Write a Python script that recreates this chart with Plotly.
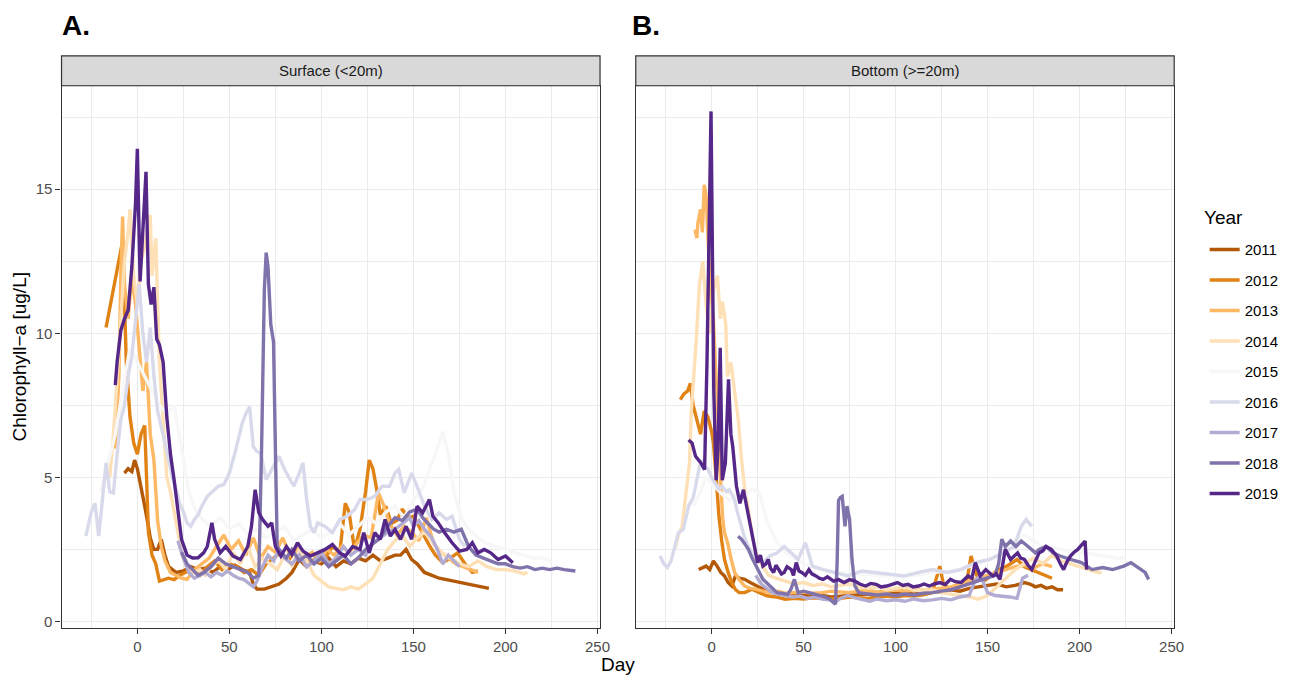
import plotly.graph_objects as go

# ---------------- data ----------------
years = [2011, 2012, 2013, 2014, 2015, 2016, 2017, 2018, 2019]
year_colors = ["#b35806", "#e08214", "#fdb863", "#fee0b6", "#f7f7f7",
               "#d8daeb", "#b2abd2", "#8073ac", "#542788"]
x_ticks = [0, 50, 100, 150, 200, 250]
y_ticks = [0, 5, 10, 15]
panel_titles = ["Surface (<20m)", "Bottom (>=20m)"]
panel_letters = ["A.", "B."]

# ---- Surface (<20m) ----
surf_2011_day = [-7, -5, -3, -1.5, 0, 2, 4, 6, 7, 9, 11, 13, 15, 17, 19, 21, 25, 29, 33, 37, 41, 45, 49, 53, 57,
                 61, 63, 65, 69, 73, 77, 81, 84, 88, 92, 96, 100, 104, 108, 112, 116, 120, 124, 128, 132,
                 136, 140, 143, 146, 149, 152, 156, 160, 164, 168, 172, 176, 180, 184, 188, 191]
surf_2011_chl = [5.15, 5.3, 5.2, 5.6, 5.3, 4.7, 4.0, 3.3, 2.9, 2.5, 2.5, 2.85, 2.3, 1.9, 1.8, 1.7, 1.75, 1.9, 1.8,
                 1.85, 1.7, 1.9, 1.8, 1.95, 1.8, 1.7, 1.3, 1.12, 1.12, 1.2, 1.3, 1.5, 1.7, 2.15, 1.9, 2.1, 2.0,
                 2.2, 1.9, 2.1, 2.0, 2.2, 2.1, 2.3, 2.1, 2.2, 2.3, 2.3, 2.5, 2.15, 2.0, 1.7, 1.6, 1.5, 1.45,
                 1.4, 1.35, 1.3, 1.25, 1.2, 1.15]

surf_2012_day = [-17, -15, -13, -11, -9, -8, -6, -4, -2, 0, 2, 4, 5, 6, 8, 10, 12, 14, 17, 20, 23, 26, 30, 34, 38,
                 42, 46, 50, 54, 58, 62, 66, 70, 74, 78, 82, 86, 90, 94, 98, 102, 106, 110, 113, 115, 118,
                 121, 124, 126, 128, 130, 132, 135, 138, 141, 144, 147, 150, 153, 156, 159, 162, 166, 170,
                 174, 178, 182, 185]
surf_2012_chl = [10.2, 10.9, 11.6, 12.2, 13.0, 13.2, 9.0, 7.1, 6.2, 5.8, 6.5, 6.8, 5.0, 3.1, 2.3, 2.0, 1.4, 1.45,
                 1.5, 1.45, 1.6, 1.7, 1.8, 1.6, 1.9, 2.1, 1.8, 2.0, 1.9, 1.7, 1.8, 1.6, 2.0, 2.2, 2.4, 2.1,
                 2.5, 2.2, 2.0, 2.3, 2.2, 2.6, 2.4, 4.1, 3.8, 2.5, 3.2, 4.5, 5.6, 5.3, 4.6, 3.7, 4.0, 3.4,
                 3.5, 3.9, 3.6, 3.65, 3.3, 2.9, 2.6, 2.3, 2.04, 2.2, 2.38, 2.0, 1.7, 1.75]

surf_2013_day = [-12, -10, -9, -8, -7, -5, -3, -1, 1, 3, 5, 7, 9, 11, 13, 15, 18, 21, 24, 27, 31, 35, 39, 43, 47,
                 51, 55, 59, 63, 67, 71, 75, 79, 83, 87, 91, 95, 99, 103, 107, 111, 115, 119, 123, 127,
                 131, 134, 137, 141, 145, 149, 153, 157, 161, 165, 169, 173, 177, 181, 185]
surf_2013_chl = [6.0, 8.5, 12.0, 14.05, 11.7, 10.5, 12.0, 11.0, 9.5, 8.0, 9.0, 6.5, 5.6, 3.5, 2.6, 2.1, 1.7, 1.6,
                 1.5, 1.46, 1.8, 2.0, 2.2, 2.6, 3.0, 2.5, 2.8, 2.3, 2.9, 2.2, 2.6, 2.4, 2.9, 2.3, 2.5, 2.2,
                 2.4, 2.1, 2.5, 2.3, 2.6, 2.4, 2.7, 3.0, 2.9, 4.46, 4.0, 3.4, 3.0, 3.3, 3.1, 2.8, 3.6, 2.7,
                 2.4, 2.2, 2.0, 1.9, 1.8, 1.7]

surf_2014_day = [-15, -13, -11, -9, -7, -5, -4, -2, 0, 2, 4, 6, 7, 8, 10, 12, 14, 16, 18, 20, 22, 24, 26, 28, 31,
                 34, 37, 40, 44, 48, 52, 56, 60, 64, 68, 72, 76, 80, 84, 88, 92, 96, 100, 104, 108, 112,
                 116, 120, 124, 128, 132, 136, 140, 144, 148, 152, 156, 160, 165, 170, 175, 180, 185, 190,
                 195, 200, 205, 210, 212]
surf_2014_chl = [5.0, 6.5, 8.4, 10.5, 12.5, 13.5, 14.3, 12.0, 11.0, 12.5, 13.0, 13.8, 14.1, 12.0, 13.3, 9.0, 7.0,
                 5.0, 4.5, 3.8, 3.0, 2.4, 2.0, 1.8, 1.7, 1.8, 1.6, 1.9, 2.1, 1.8, 2.4, 2.0, 2.6, 1.9, 2.2,
                 2.0, 1.8, 2.3, 1.9, 2.5, 2.1, 1.6, 1.4, 1.2, 1.15, 1.1, 1.2, 1.12, 1.3, 1.5, 2.0, 2.5, 2.8,
                 3.0, 2.6, 2.9, 3.1, 2.8, 2.4, 2.2, 2.0, 1.9, 2.1, 1.9, 1.8, 1.8, 1.75, 1.65, 1.7]

surf_2015_day = [-20, -16, -12, -8, -4, 0, 4, 8, 12, 16, 20, 24, 28, 32, 36, 40, 45, 50, 55, 60, 65, 70, 75, 80,
                 85, 90, 95, 100, 105, 110, 115, 120, 125, 130, 135, 140, 145, 150, 155, 160, 163, 166,
                 169, 172, 176, 180, 185, 190, 195, 200, 205, 210, 215, 220, 225]
surf_2015_chl = [4.5, 5.5, 6.5, 8.0, 9.5, 9.0, 8.5, 8.0, 7.5, 7.2, 7.5, 6.0, 4.5, 3.8, 3.5, 3.3, 3.6, 3.2, 3.4,
                 3.0, 3.2, 2.9, 3.1, 3.3, 2.8, 3.0, 3.2, 2.9, 3.1, 3.4, 3.0, 3.3, 3.6, 3.4, 3.8, 4.0, 3.6,
                 4.2, 4.6, 5.5, 6.0, 6.6, 5.8, 4.5, 3.6, 3.2, 2.9, 2.7, 2.6, 2.5, 2.4, 2.3, 2.2, 2.2, 2.1]

surf_2016_day = [-28, -25, -23, -21, -19, -17, -15, -13, -11, -9, -7, -5, -3, -1, 1, 3, 5, 7, 9, 11, 13, 15, 17,
                 19, 21, 23, 25, 27, 29, 31, 33, 35, 38, 41, 44, 47, 50, 53, 55, 57, 59, 61, 63, 65, 67,
                 70, 73, 77, 80, 83, 85, 88, 90, 92, 94, 96, 98, 102, 106, 110, 114, 118, 121, 125, 129,
                 133, 137, 140, 142, 145, 149, 152, 156, 160, 164, 168, 171, 175, 178]
surf_2016_chl = [2.96, 3.8, 4.1, 2.96, 4.2, 5.5, 4.5, 4.46, 5.8, 7.0, 7.5, 8.5, 9.2, 10.5, 11.7, 10.0, 9.0, 10.2,
                 8.5, 7.3, 6.8, 6.2, 5.6, 5.0, 4.6, 4.1, 3.8, 3.42, 3.3, 3.54, 3.7, 4.0, 4.34, 4.5, 4.69,
                 4.75, 5.15, 5.84, 6.4, 6.88, 7.22, 7.45, 6.07, 5.9, 5.84, 4.92, 5.27, 5.73, 5.27, 4.9,
                 4.69, 5.15, 5.5, 4.23, 3.3, 3.08, 3.42, 3.3, 3.08, 3.54, 3.65, 3.88, 4.23, 4.23, 4.34,
                 4.69, 4.69, 5.15, 5.27, 4.46, 5.15, 4.69, 4.0, 3.54, 3.77, 3.54, 3.65, 2.85, 2.6]

surf_2017_day = [22, 25, 28, 31, 34, 37, 40, 43, 46, 49, 52, 55, 58, 61, 63, 65, 68, 71, 74, 77, 80, 84, 88, 92,
                 96, 100, 104, 108, 112, 116, 120, 124, 128, 132, 136, 140, 144, 148, 150, 153, 156, 160,
                 163, 166, 169, 172, 175]
surf_2017_chl = [2.8, 2.2, 1.7, 1.5, 1.6, 1.7, 1.55, 1.7, 1.6, 1.75, 1.6, 1.5, 1.45, 1.3, 1.2, 1.4, 1.9, 2.3,
                 2.1, 2.5, 2.2, 2.0, 2.3, 1.9, 2.1, 2.4, 2.0, 2.2, 2.6, 2.3, 2.5, 2.3, 2.7, 2.9, 3.1, 3.2,
                 3.4, 3.6, 3.3, 3.5, 3.2, 2.9, 2.5, 2.0, 2.3, 2.1, 1.9]

surf_2018_day = [24, 27, 30, 33, 36, 40, 44, 48, 52, 56, 60, 63, 66, 67.5, 69, 70, 71, 72.5, 74, 75, 76, 78, 81,
                 84, 88, 92, 96, 100, 104, 108, 112, 116, 120, 124, 128, 132, 136, 140, 144, 148, 152, 155,
                 158, 161, 164, 168, 172, 176, 180, 184, 188, 192, 196, 200, 204, 208, 212, 216, 220, 224,
                 228, 232, 236, 238]
surf_2018_chl = [2.4, 2.0, 1.8, 1.6, 1.7, 1.9, 2.2, 2.0, 1.9, 1.8, 1.7, 1.5, 1.6, 6.0, 11.5, 12.8, 12.3, 10.3,
                 9.7, 6.0, 2.6, 2.4, 2.2, 2.5, 2.1, 2.3, 2.0, 2.2, 1.9, 2.1, 2.3, 2.0, 2.2, 2.5, 2.7, 2.9,
                 3.3, 3.6, 3.5, 3.8, 3.9, 3.6, 3.4, 3.2, 3.1, 3.2, 3.1, 3.2, 2.6, 2.3, 2.2, 2.1, 2.0, 2.0,
                 1.9, 1.85, 1.9, 1.8, 1.85, 1.8, 1.85, 1.8, 1.75, 1.75]

surf_2019_day = [-12, -11, -9, -7, -5, -3, -1, 0, 1.5, 3, 4.7, 6, 7.5, 9, 10.5, 12, 14, 16, 18, 20, 22, 24, 27,
                 30, 33, 36, 38, 40.5, 42, 45, 48, 52, 56, 60, 62, 64, 66, 68, 71, 73, 75, 78, 81, 84, 87,
                 90, 94, 98, 102, 106, 110, 113, 117, 121, 123, 126, 129, 132, 134.6, 137.5, 140, 143,
                 146, 149, 152, 155, 158.7, 160.6, 163.5, 167, 171, 175, 179, 182, 185, 188.5, 192, 196,
                 200, 204]
surf_2019_chl = [8.2, 9.0, 10.1, 10.5, 10.8, 12.3, 14.5, 16.4, 11.8, 13.5, 15.6, 11.7, 11.0, 11.6, 9.8, 9.6,
                 9.0, 7.1, 5.8, 4.9, 3.8, 2.85, 2.3, 2.2, 2.21, 2.38, 2.6, 3.42, 2.85, 2.38, 2.6, 2.27,
                 2.15, 2.6, 3.3, 4.57, 3.77, 3.54, 3.3, 3.42, 2.6, 2.27, 2.6, 2.33, 2.73, 2.44, 2.27, 2.38,
                 2.5, 2.67, 2.38, 2.27, 2.6, 2.5, 3.08, 2.38, 3.08, 2.85, 3.54, 2.96, 3.19, 2.85, 3.3,
                 2.85, 4.0, 3.77, 4.23, 3.65, 3.42, 3.08, 2.73, 2.44, 2.5, 2.73, 2.38, 2.5, 2.38, 2.15,
                 2.27, 2.04]

# ---- Bottom (>=20m) ----
bot_2011_day = [-7, -5, -3, -1, 1, 3, 5, 7, 9, 11, 13, 15, 18, 21, 24, 28, 32, 36, 40, 45, 50, 55, 60, 65, 70,
                75, 80, 85, 90, 95, 100, 105, 110, 115, 120, 125, 130, 135, 140, 145, 150, 155, 160, 165,
                170, 173, 176, 179, 182, 185, 188, 191]
bot_2011_chl = [1.8, 1.85, 1.92, 1.8, 2.1, 1.92, 1.7, 1.58, 1.35, 1.23, 1.58, 1.5, 1.46, 1.35, 1.25, 1.12, 1.05,
                1.0, 0.95, 0.9, 0.92, 0.88, 0.9, 0.85, 0.88, 0.9, 0.92, 0.95, 0.9, 0.95, 0.98, 1.0, 0.95,
                1.0, 1.05, 1.0, 1.1, 1.05, 1.15, 1.2, 1.25, 1.3, 1.2, 1.25, 1.35, 1.3, 1.2, 1.25, 1.15,
                1.2, 1.1, 1.1]

bot_2012_day = [-17, -15, -13, -11.5, -10, -8, -6, -4, -2, 0, 1, 2.5, 4, 5.5, 7, 9, 11, 13, 15, 18, 22, 26, 30,
                35, 40, 45, 50, 55, 60, 65, 70, 75, 80, 85, 90, 95, 100, 105, 110, 115, 120, 124, 126,
                130, 135, 139, 141, 144, 148, 152, 156, 160, 163, 166, 170, 174, 178, 182, 185]
bot_2012_chl = [7.7, 7.9, 8.0, 8.26, 7.5, 7.0, 6.5, 7.3, 7.1, 6.6, 6.2, 5.0, 3.65, 2.8, 2.15, 1.7, 1.35, 1.1,
                1.0, 1.0, 1.12, 1.0, 0.89, 0.85, 0.77, 0.8, 0.78, 0.82, 0.8, 0.78, 0.8, 0.85, 0.82, 0.8,
                0.85, 0.88, 0.85, 0.9, 0.88, 0.92, 1.0, 1.92, 1.3, 1.1, 1.2, 1.5, 2.27, 1.6, 1.4, 1.6,
                1.8, 1.9, 2.04, 2.15, 1.9, 1.8, 1.7, 1.6, 1.5]

bot_2013_day = [-9, -8, -7.5, -6, -5, -4, -3, -2, -1, 0, 1, 2, 3, 4, 5, 6, 7, 8.7, 10.5, 12.5, 15, 18, 21, 24,
                28, 32, 36, 40, 45, 50, 55, 60, 65, 70, 75, 80, 85, 90, 95, 100, 105, 110, 115, 120, 125,
                130, 135, 140, 145, 150, 155, 160, 165, 170, 175, 180, 185]
bot_2013_chl = [13.6, 13.3, 13.8, 14.3, 13.5, 15.15, 14.8, 13.0, 12.0, 11.0, 10.5, 9.0, 7.9, 6.0, 4.46, 3.6,
                3.1, 2.73, 2.2, 1.7, 1.45, 1.23, 1.15, 1.12, 1.05, 1.0, 1.05, 0.98, 1.0, 1.02, 0.98, 1.0,
                1.05, 1.02, 1.0, 1.05, 1.08, 1.02, 1.05, 1.1, 1.05, 1.1, 1.08, 1.12, 1.15, 1.2, 1.3, 1.4,
                1.5, 1.6, 1.7, 1.8, 1.9, 1.95, 1.85, 2.0, 1.9]

bot_2014_day = [-20, -18, -16, -14, -12, -11, -10, -8.4, -6.6, -4.8, -3, -1, 1, 3.2, 4.7, 5.9, 7.7, 8.6, 10.5,
                12.5, 14.5, 16.3, 18, 20, 22, 24, 26, 28, 31, 35, 40, 45, 50, 55, 60, 65, 70, 75, 80, 85,
                90, 95, 100, 105, 110, 115, 120, 125, 130, 135, 140, 145, 150, 155, 160, 165, 170, 175,
                180, 185, 190, 195, 200, 205, 210, 212]
bot_2014_chl = [2.5, 3.0, 3.3, 4.5, 5.5, 7.3, 8.2, 9.7, 11.7, 12.5, 11.0, 10.0, 11.5, 12.0, 10.5, 11.1, 10.3,
                8.5, 9.0, 8.0, 7.0, 5.6, 4.6, 3.9, 3.0, 2.4, 2.1, 1.9, 1.6, 1.5, 1.4, 1.3, 1.35, 1.25, 1.3,
                1.2, 1.25, 1.3, 1.2, 1.15, 1.2, 1.1, 1.15, 1.2, 1.1, 1.05, 1.1, 1.0, 0.95, 0.9, 0.85,
                0.77, 0.9, 1.2, 1.5, 1.8, 2.0, 2.2, 2.0, 2.3, 2.1, 2.0, 1.9, 1.8, 1.7, 1.7]

bot_2015_day = [-10, -6, -3, 0, 3, 6, 10, 14, 18, 22, 26, 30, 35, 40, 45, 50, 55, 60, 70, 80, 90, 100, 110, 120,
                130, 140, 150, 160, 165, 170, 175, 180, 190, 200, 210, 220, 225]
bot_2015_chl = [4.0, 4.5, 5.0, 4.8, 4.6, 4.4, 4.2, 4.5, 4.3, 4.6, 4.46, 3.5, 2.8, 2.4, 2.2, 2.0, 1.9, 1.8, 1.7,
                1.65, 1.6, 1.55, 1.6, 1.7, 1.75, 1.9, 2.1, 2.5, 2.8, 3.0, 2.8, 2.6, 2.5, 2.4, 2.3, 2.2, 2.2]

bot_2016_day = [-28, -26, -24, -22, -20, -18, -15.4, -12.5, -10, -8.7, -5.8, -4, -1.9, 0, 1.9, 4, 5.8, 8, 9.6,
                12.5, 14, 16.3, 18, 20, 22, 24, 27.9, 31.7, 35.6, 39.4, 43.3, 47, 51, 54.8, 60.6, 66.3, 74,
                81.7, 89.4, 97, 104.8, 112.5, 120, 127.9, 135.6, 143.3, 151, 158.7, 164.4, 168.3, 171, 174]
bot_2016_chl = [2.27, 2.0, 1.87, 2.1, 2.6, 3.08, 3.19, 4.0, 4.3, 4.69, 5.6, 5.4, 5.27, 5.0, 4.8, 4.6, 4.69,
                4.5, 4.57, 4.23, 3.8, 3.3, 2.9, 2.6, 2.4, 2.15, 2.04, 2.27, 2.38, 2.6, 2.38, 2.15, 2.73,
                1.92, 1.8, 1.7, 1.58, 1.75, 1.7, 1.64, 1.58, 1.7, 1.8, 1.7, 1.8, 2.04, 2.15, 2.38, 2.6,
                3.3, 3.54, 3.3]

bot_2017_day = [24, 27, 30, 33, 36, 40, 44, 48, 52, 56, 60, 64, 67, 70, 74, 78, 82, 86, 90, 95, 100, 105, 110,
                115, 120, 125, 130, 135, 140, 143, 146, 150, 154, 158, 162, 166, 169, 172]
bot_2017_chl = [1.6, 1.3, 1.15, 1.0, 0.95, 0.9, 0.85, 0.88, 0.8, 0.85, 0.78, 0.75, 0.65, 0.8, 0.9, 0.82, 0.75,
                0.7, 0.78, 0.72, 0.75, 0.7, 0.78, 0.72, 0.75, 0.8, 0.75, 0.85, 0.9, 1.4, 1.6, 1.0, 0.9,
                0.88, 0.85, 0.8, 1.5, 1.6]

bot_2018_day = [14.4, 16.3, 18, 20, 22, 24, 26, 27.9, 29.8, 31.7, 33.6, 35.6, 38, 41.3, 43, 45, 47, 50, 52.9,
                55.8, 58.6, 61.5, 64.4, 67.3, 68.2, 69, 70, 71, 72.5, 73.6, 75, 76.3, 77.9, 80, 85, 90,
                95, 100, 105, 110, 115, 120, 125, 130, 135, 140, 145, 150, 154, 156, 157.7, 159.6, 162.5,
                165.4, 168.3, 172, 176, 178, 181.7, 185.6, 189.4, 195, 201, 206.7, 212.5, 218, 224,
                227.9, 231.7, 235.6, 237.5]
bot_2018_chl = [2.96, 2.85, 2.7, 2.5, 2.2, 1.92, 1.7, 1.46, 1.35, 1.23, 1.1, 1.0, 0.98, 0.94, 1.1, 1.46, 1.0,
                1.05, 1.0, 0.95, 0.89, 0.85, 0.77, 0.6, 2.0, 4.2, 4.3, 4.34, 3.3, 4.0, 3.54, 2.15, 1.23,
                1.0, 0.95, 0.92, 0.95, 0.9, 0.95, 0.92, 0.98, 1.0, 1.05, 1.1, 1.2, 1.3, 1.4, 1.5, 1.6,
                2.0, 2.85, 2.6, 2.79, 2.6, 2.79, 2.6, 2.38, 2.5, 2.6, 2.38, 2.27, 2.15, 2.04, 1.8, 1.87,
                1.8, 1.92, 2.04, 1.87, 1.7, 1.46]

bot_2019_day = [-12.5, -10.6, -8.7, -5.8, -3.8, -2.5, -0.3, 1.2, 2.5, 3.5, 4.7, 5.8, 7.5, 9.2, 10.5, 11.5,
                13.5, 15.4, 17.3, 20, 23, 25, 26.5, 27.9, 29.5, 30.8, 32, 33.7, 35, 36.5, 38, 39.4, 41,
                43.3, 44.5, 46, 47.5, 49, 51, 52.9, 54.5, 56.7, 58.5, 60.6, 63, 66.3, 69, 72, 75, 77.9,
                80.5, 83.7, 86.5, 89.4, 92, 95.2, 98, 101, 104, 106.7, 109.5, 112.5, 115.5, 118.3, 121,
                124, 127, 129.8, 132.5, 135.6, 139.4, 141.5, 143.3, 146, 149, 151, 152.9, 154.8, 156.7,
                158, 159.6, 162.5, 166.3, 168, 170, 172, 174, 176, 178, 180, 181.7, 184.6, 187.5, 189.5,
                191.3, 193, 195, 197, 199, 201, 203, 203.8]
bot_2019_chl = [6.3, 6.19, 5.73, 5.5, 5.27, 9.0, 17.7, 8.0, 4.9, 6.0, 9.5, 4.9, 5.5, 8.4, 6.5, 6.07, 4.7, 4.1,
                4.57, 3.65, 2.6, 2.04, 2.3, 1.92, 2.0, 2.15, 1.85, 1.7, 1.95, 1.8, 1.65, 1.7, 1.9, 1.8, 1.6,
                2.04, 1.75, 1.7, 1.6, 1.8, 1.65, 1.58, 1.5, 1.46, 1.55, 1.4, 1.45, 1.35, 1.45, 1.4, 1.3,
                1.23, 1.32, 1.29, 1.2, 1.23, 1.3, 1.35, 1.25, 1.29, 1.2, 1.23, 1.3, 1.23, 1.3, 1.35, 1.28,
                1.46, 1.38, 1.35, 1.58, 1.5, 2.04, 1.58, 1.8, 1.7, 1.58, 1.65, 1.46, 1.9, 2.5, 2.15, 2.38,
                2.2, 2.15, 1.95, 1.8, 2.1, 2.38, 2.45, 2.6, 2.5, 2.27, 2.0, 1.8, 2.05, 2.27, 2.4, 2.5,
                2.65, 2.79, 1.8]

surface = {
    2011: (surf_2011_day, surf_2011_chl), 2012: (surf_2012_day, surf_2012_chl),
    2013: (surf_2013_day, surf_2013_chl), 2014: (surf_2014_day, surf_2014_chl),
    2015: (surf_2015_day, surf_2015_chl), 2016: (surf_2016_day, surf_2016_chl),
    2017: (surf_2017_day, surf_2017_chl), 2018: (surf_2018_day, surf_2018_chl),
    2019: (surf_2019_day, surf_2019_chl),
}
bottom = {
    2011: (bot_2011_day, bot_2011_chl), 2012: (bot_2012_day, bot_2012_chl),
    2013: (bot_2013_day, bot_2013_chl), 2014: (bot_2014_day, bot_2014_chl),
    2015: (bot_2015_day, bot_2015_chl), 2016: (bot_2016_day, bot_2016_chl),
    2017: (bot_2017_day, bot_2017_chl), 2018: (bot_2018_day, bot_2018_chl),
    2019: (bot_2019_day, bot_2019_chl),
}
for name, d in (("surface", surface), ("bottom", bottom)):
    for yr, (dd, vv) in d.items():
        assert len(dd) == len(vv), f"{name} {yr}: {len(dd)} vs {len(vv)}"

# ---------------- figure ----------------
W, H = 1299, 676
FONT = "Liberation Sans, Arial, Helvetica, sans-serif"

# pixel layout of the reference (screen coordinates)
p1_x0, p1_x1 = 62.0, 604.7
p2_x0, p2_x1 = 640.7, 1183.3
py_top, py_bot = 86.0, 629.5
strip_top = 56.0


def px(x):
    return x / W


def py(y):
    return 1 - y / H


fig = go.Figure()
for i, yr in enumerate(years):
    d, v = surface[yr]
    fig.add_trace(go.Scatter(x=d, y=v, mode="lines", name=str(yr), legendgroup=str(yr),
                             line=dict(color=year_colors[i], width=3.4), xaxis="x", yaxis="y",
                             showlegend=True))
for i, yr in enumerate(years):
    d, v = bottom[yr]
    fig.add_trace(go.Scatter(x=d, y=v, mode="lines", name=str(yr), legendgroup=str(yr),
                             line=dict(color=year_colors[i], width=3.4), xaxis="x2", yaxis="y2",
                             showlegend=False))

x_range = [-41.2, 251.4]
y_range = [-0.215, 18.59]
grid = "#ebebeb"
axcol = "#333333"


def xaxis(domain, anchor):
    return dict(domain=domain, anchor=anchor, range=x_range, tickmode="array", tickvals=x_ticks,
                ticktext=[str(t) for t in x_ticks], showgrid=True, gridcolor=grid, gridwidth=1.1,
                minor=dict(tick0=-25, dtick=50, showgrid=True, gridcolor=grid, gridwidth=0.6),
                ticks="outside", ticklen=5, tickwidth=1.1, tickcolor=axcol,
                tickfont=dict(family=FONT, size=15, color="#4d4d4d"),
                showline=True, linecolor=axcol, linewidth=1.2, mirror=True, zeroline=False)


def yaxis(domain, anchor, labels):
    return dict(domain=domain, anchor=anchor, range=y_range, tickmode="array", tickvals=y_ticks,
                ticktext=[str(t) for t in y_ticks], showgrid=True, gridcolor=grid, gridwidth=1.1,
                minor=dict(tick0=2.5, dtick=5, showgrid=True, gridcolor=grid, gridwidth=0.6),
                ticks="outside" if labels else "", ticklen=5, tickwidth=1.1, tickcolor=axcol,
                showticklabels=labels,
                tickfont=dict(family=FONT, size=15, color="#4d4d4d"),
                showline=True, linecolor=axcol, linewidth=1.2, mirror=True, zeroline=False)


ydom = [py(py_bot), py(py_top)]
fig.update_layout(
    width=W, height=H, margin=dict(l=0, r=0, t=0, b=0),
    paper_bgcolor="white", plot_bgcolor="white",
    font=dict(family=FONT, color="#1a1a1a"),
    xaxis=xaxis([px(p1_x0), px(p1_x1)], "y"),
    yaxis=yaxis(ydom, "x", True),
    xaxis2=xaxis([px(p2_x0), px(p2_x1)], "y2"),
    yaxis2=yaxis(ydom, "x2", False),
    legend=dict(font=dict(family=FONT, size=15, color="black"),
                x=px(1214), xanchor="left", y=py(234), yanchor="top",
                traceorder="grouped", tracegroupgap=8, bgcolor="rgba(0,0,0,0)"),
    showlegend=True,
)

shapes = []
annotations = []
for (x0, x1), title, letter in zip([(p1_x0, p1_x1), (p2_x0, p2_x1)], panel_titles, panel_letters):
    shapes.append(dict(type="rect", xref="paper", yref="paper", x0=px(x0), x1=px(x1),
                       y0=py(py_top), y1=py(strip_top), fillcolor="#d9d9d9",
                       line=dict(color=axcol, width=1.2), layer="above"))
    annotations.append(dict(text=title, xref="paper", yref="paper", x=px((x0 + x1) / 2),
                            y=py((strip_top + py_top) / 2), xanchor="center", yanchor="middle",
                            showarrow=False, font=dict(family=FONT, size=15, color="#1a1a1a")))
    annotations.append(dict(text="<b>" + letter + "</b>", xref="paper", yref="paper",
                            x=px(x0 - 2 if letter == "A." else x0 - 6), y=py(26), xanchor="left",
                            yanchor="middle", showarrow=False,
                            font=dict(family=FONT, size=28, color="black")))

annotations.append(dict(text="Year", xref="paper", yref="paper", x=px(1211), y=py(218),
                        xanchor="left", yanchor="middle", showarrow=False,
                        font=dict(family=FONT, size=19, color="black")))
annotations.append(dict(text="Day", xref="paper", yref="paper", x=px((p1_x0 + p2_x1) / 2), y=py(666),
                        xanchor="center", yanchor="middle", showarrow=False,
                        font=dict(family=FONT, size=19, color="black")))
annotations.append(dict(text="Chlorophyll\u2212a [ug/L]", xref="paper", yref="paper", x=px(20),
                        y=py((py_top + py_bot) / 2), xanchor="center", yanchor="middle",
                        textangle=-90, showarrow=False,
                        font=dict(family=FONT, size=19, color="black")))
fig.update_layout(shapes=shapes, annotations=annotations)

# the page body would otherwise add the browser's default 8px margin around the figure
fig.write_html("out.html", config={"displayModeBar": False},
               post_script="document.body.style.margin='0px';"
                           "document.documentElement.style.overflow='hidden';")
